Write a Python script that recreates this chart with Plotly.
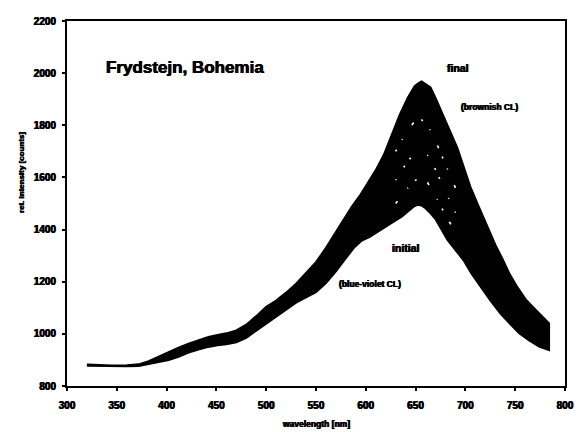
import plotly.graph_objects as go

# Cathodoluminescence spectra, Frydstejn (Bohemia): envelope of the spectra series
# from the first (initial, blue-violet CL) to the last (final, brownish CL) record.
wl_final = [320, 330, 345, 360, 372, 382, 392, 402, 412, 422, 432, 442, 451, 460,
            470, 480, 490, 500, 510, 520, 530, 540, 550, 560, 570, 578, 586, 594,
            602, 610, 618, 626, 634, 642, 649, 653, 656, 660, 665, 670, 675, 680,
            686, 692, 698, 705, 712, 718, 725, 731, 738, 744, 752, 761, 769, 777, 784]
final = [882, 880, 879, 880, 883, 895, 912, 932, 947, 962, 975, 988, 996, 1002,
         1013, 1035, 1068, 1104, 1128, 1158, 1192, 1235, 1275, 1330, 1390, 1440, 1488, 1530,
         1578, 1628, 1686, 1760, 1840, 1905, 1950, 1962, 1968, 1958, 1945, 1905, 1860, 1812,
         1765, 1712, 1645, 1564, 1500, 1449, 1392, 1334, 1282, 1232, 1180, 1130, 1098, 1066, 1040]

wl_initial = [320, 330, 345, 360, 372, 382, 392, 402, 412, 422, 432, 442, 451, 460,
              470, 480, 490, 500, 510, 520, 530, 540, 550, 560, 570, 580, 588, 596,
              604, 612, 620, 628, 636, 642, 648, 652, 656, 660, 665, 670, 676, 682,
              690, 698, 706, 715, 725, 735, 745, 754, 764, 774, 784]
initial = [878, 877, 876, 876, 877, 884, 892, 900, 912, 928, 940, 950, 956, 960,
           968, 985, 1012, 1041, 1066, 1093, 1120, 1140, 1160, 1195, 1240, 1290, 1330, 1358,
           1372, 1390, 1410, 1430, 1449, 1468, 1488, 1495, 1492, 1482, 1462, 1440, 1400, 1360,
           1322, 1283, 1232, 1181, 1128, 1079, 1038, 1002, 975, 951, 938]

# intermediate spectra near the maximum, seen only as small gaps inside the band
wl_mid = [630, 640, 648, 655, 662, 670, 680, 690]
mid_a = [1700, 1770, 1810, 1825, 1800, 1740, 1650, 1560]
mid_b = [1590, 1650, 1690, 1705, 1685, 1630, 1545, 1465]
mid_c = [1500, 1550, 1585, 1600, 1580, 1530, 1455, 1390]

x_ticks = [300, 350, 400, 450, 500, 550, 600, 650, 700, 750, 800]
y_ticks = [800, 1000, 1200, 1400, 1600, 1800, 2000, 2200]

FONT = "Liberation Sans"
HEAVY = "0.4px 0 0 black, -0.4px 0 0 black"

fig = go.Figure()

# band between the final and the initial spectrum
band_x = wl_final + wl_initial[::-1]
band_y = final + initial[::-1]
fig.add_trace(go.Scatter(
    x=band_x, y=band_y, mode="lines", fill="toself",
    fillcolor="black", line=dict(color="black", width=2),
    hoverinfo="skip", showlegend=False,
))
gap_styles = ["2px,11px,1px,17px,3px,9px", "1px,14px,2px,8px,2px,21px",
              "3px,16px,1px,10px,2px,13px"]
for mid, dash in zip((mid_a, mid_b, mid_c), gap_styles):
    fig.add_trace(go.Scatter(
        x=wl_mid, y=mid, mode="lines",
        line=dict(color="white", width=1.6, dash=dash),
        hoverinfo="skip", showlegend=False,
    ))

def label(x, y, text, size, xanchor="center"):
    fig.add_annotation(x=x, y=y, text=text, showarrow=False, xanchor=xanchor,
                       yanchor="middle",
                       font=dict(family=FONT, size=size, color="black",
                                 weight="bold", shadow=HEAVY))

label(337, 2020, "Frydstejn, Bohemia", 17, xanchor="left")
label(693, 2020, "final", 10.5)
label(724, 1870, "(brownish CL)", 8.5)
label(640, 1331, "initial", 10.5)
label(604, 1191, "(blue-violet CL)", 8.5)

# axis titles
fig.add_annotation(xref="paper", yref="paper", x=0.5, y=-0.104,
                   text="wavelength [nm]", showarrow=False,
                   xanchor="center", yanchor="middle",
                   font=dict(family=FONT, size=8.5, color="black", weight="bold",
                             shadow=HEAVY))
fig.add_annotation(xref="paper", yref="paper", x=-0.093, y=0.586,
                   text="rel. intensity [counts]", showarrow=False, textangle=-90,
                   xanchor="center", yanchor="middle",
                   font=dict(family=FONT, size=8, color="black", weight="bold",
                             shadow=HEAVY))

axis_common = dict(
    showgrid=False, zeroline=False, showline=True, linecolor="black",
    linewidth=2, mirror=True, ticks="outside", ticklen=3, tickwidth=1.5,
    tickcolor="black",
    tickfont=dict(family=FONT, size=10, color="black", weight="bold", shadow=HEAVY),
)

fig.update_xaxes(range=[300, 800], tickvals=x_ticks,
                 ticktext=[str(v) for v in x_ticks],
                 ticklabelstandoff=6, **axis_common)
fig.update_yaxes(range=[800, 2200], tickvals=y_ticks,
                 ticktext=[str(v) for v in y_ticks],
                 ticklabelstandoff=4, **axis_common)

fig.update_layout(
    width=586, height=432,
    margin=dict(l=67, r=12, t=21, b=46),
    paper_bgcolor="white", plot_bgcolor="white",
    showlegend=False,
)

fig.write_html("out.html")
